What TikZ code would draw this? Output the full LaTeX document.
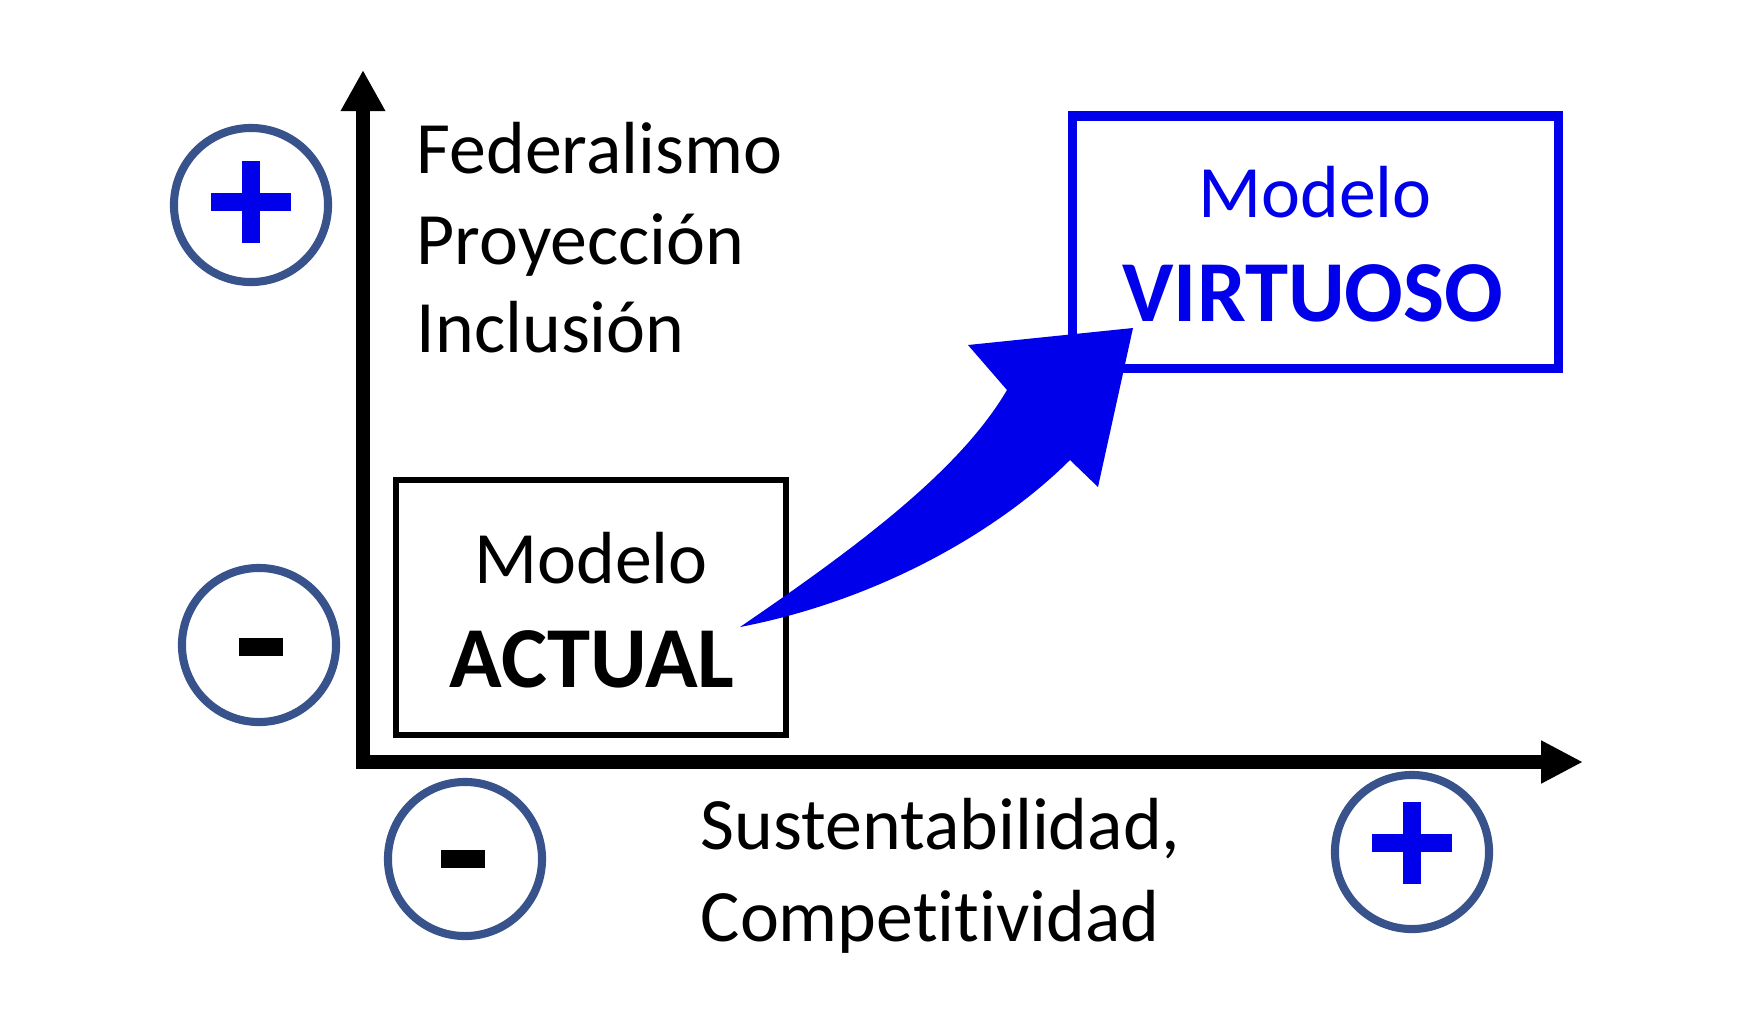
\documentclass[tikz,border=0pt]{standalone}
\usepackage{fontspec}
\setmainfont{Carlito}[Ligatures=NoCommon]
\usepackage{tikz}
\usetikzlibrary{arrows.meta}
\definecolor{azul}{RGB}{0,0,235}
\definecolor{gris}{RGB}{56,82,140}

\begin{document}
\begin{tikzpicture}[x=0.01cm, y=-0.01cm,
        texto/.style={inner sep=0pt, font=\fontsize{21}{25}\selectfont},
        negrita/.style={inner sep=0pt, font=\fontsize{24.7}{29}\selectfont\bfseries},
        signo/.style={draw=gris, line width=2.3pt, circle, minimum size=1.54cm, inner sep=0pt},
        mas/.style={azul, line width=5.1pt},
        menos/.style={black, line width=5.3pt}]
        \useasboundingbox (0,0) rectangle (1744,1014);
        % Ejes
        \draw[line width=4pt, {Triangle[length=11.7pt,width=11.9pt]}-{Triangle[length=11.9pt,width=11.4pt]}] (363,70) -- (363,762) -- (1583,762);
        % Textos de los ejes
        \node[texto, anchor=base west] (fed) at (416,173) {Federalismo};
        \node[texto, anchor=base west] (pro) at (416,264) {Proyección};
        \node[texto, anchor=base west] (inc) at (416,352) {Inclusión};
        \node[texto, anchor=base west] (sus) at (700,849) {Sustentabilidad,};
        \node[texto, anchor=base west] (com) at (700,941) {Competitividad};
        % Signos
        \node[signo] (masY) at (251,205) {};
        \node[signo] (menosY) at (259,645) {};
        \node[signo] (menosX) at (465,859) {};
        \node[signo] (masX) at (1412,852) {};
        \draw[mas] (masY) +(-40,-3) -- +(40,-3);
        \draw[mas] (masY) +(0,-44) -- +(0,38);
        \draw[mas] (masX) +(-40,-9) -- +(40,-9);
        \draw[mas] (masX) +(0,-50) -- +(0,32);
        \draw[menos] (menosY) +(-20,2) -- +(24,2);
        \draw[menos] (menosX) +(-24,0) -- +(20,0);
        % Modelo actual
        \node[draw, line width=1.5pt, minimum width=3.9cm, minimum height=2.55cm, inner sep=0pt] (actual) at (591,607.5) {};
        \node[texto, anchor=base] (actual1) at (591,583) {Modelo};
        \node[negrita, anchor=base] (actual2) at (592,687) {ACTUAL};
        % Modelo virtuoso
        \node[draw=azul, line width=2.6pt, minimum width=4.86cm, minimum height=2.52cm, inner sep=0pt] (virtuoso) at (1315.5,242) {};
        \node[texto, azul, anchor=base] (virtuoso1) at (1315,217) {Modelo};
        \node[negrita, azul, anchor=base] (virtuoso2) at (1313,321) {VIRTUOSO};
        % Flecha
        \coordinate (cola) at (740,627);
        \coordinate (punta) at (1133,328);
        \fill[azul] (cola) .. controls (860,545) and (960,470) .. (1007,390) -- (968,345) -- (punta) -- (1098,487) -- (1070,460) .. controls (1000,530) and (880,600) .. (cola) -- cycle;
\end{tikzpicture}
\end{document}
